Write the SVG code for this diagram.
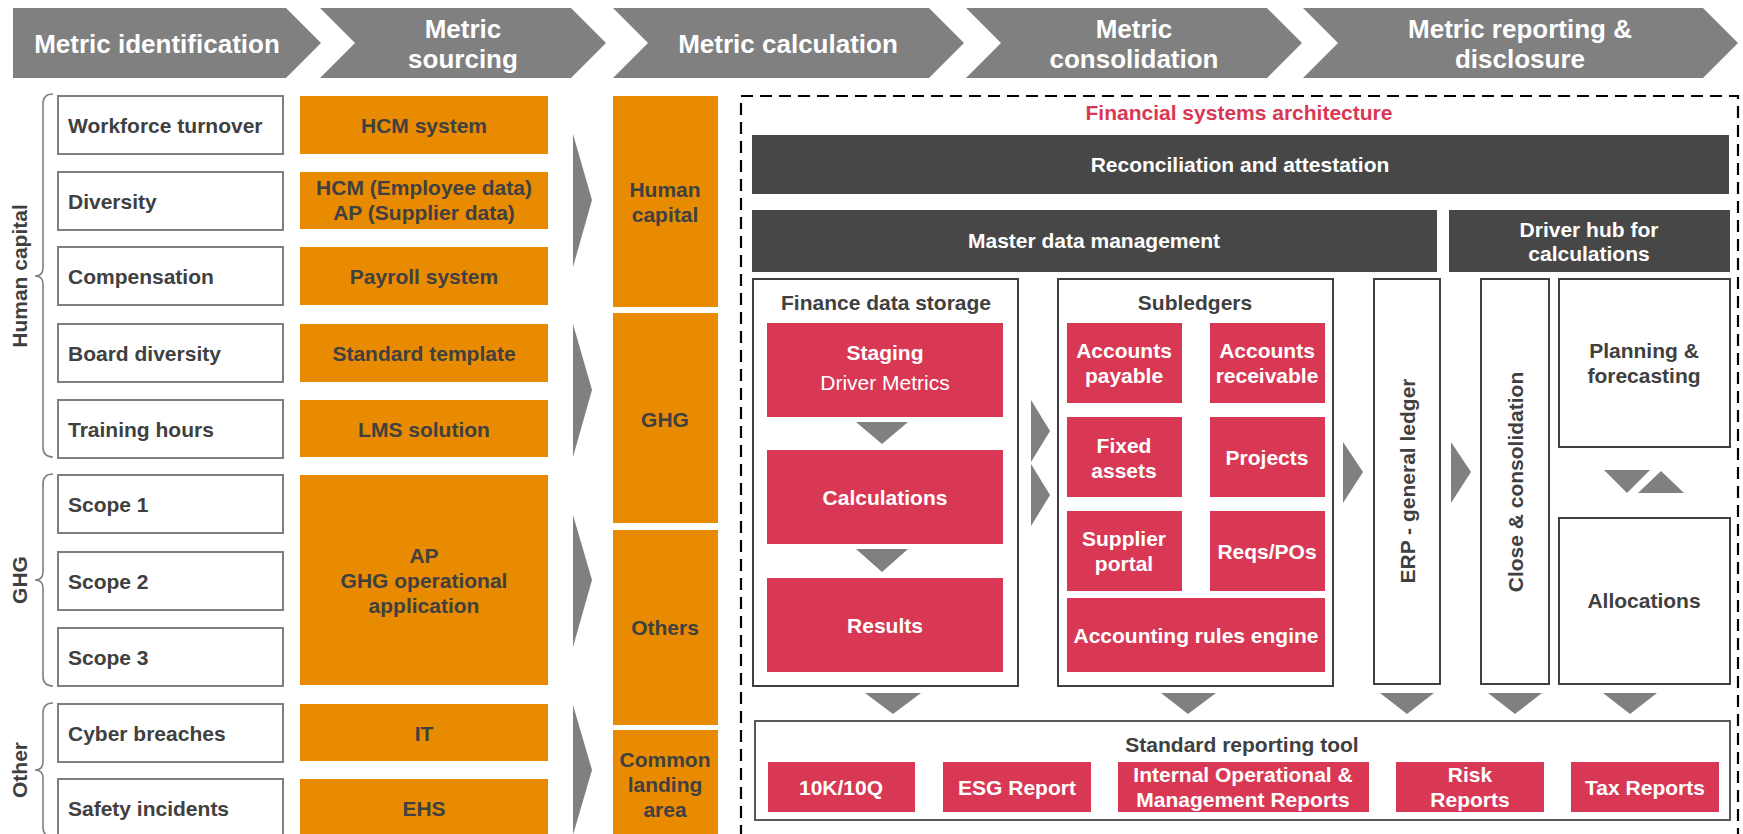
<svg xmlns="http://www.w3.org/2000/svg" width="1743" height="834" viewBox="0 0 1743 834">
  <style>
    text { font-family: "Liberation Sans", Arial, sans-serif; font-weight: bold; font-size: 21px; }
    .hdr { fill: #808080; }
    .hdrt { fill: #ffffff; font-size: 26px; text-anchor: middle; }
    .metric { fill: #ffffff; stroke: #7f7f7f; stroke-width: 2; }
    .dark { fill: #404040; }
    .mid { text-anchor: middle; }
    .src { fill: #E98B00; }
    .red { fill: #D93854; }
    .white { fill: #ffffff; }
    .bar { fill: #474747; }
    .frame { fill: #ffffff; stroke: #404040; stroke-width: 2; }
    .tool { fill: #ffffff; stroke: #595959; stroke-width: 2; }
    .arr { fill: #808080; }
    .brace { fill: none; stroke: #7f7f7f; stroke-width: 1.6; }
    .reg { font-weight: normal; }
  </style>

  <!-- Process chevrons -->
  <g id="stage-identification">
    <path class="hdr" d="M13,8 L286,8 L321,43 L286,78 L13,78 Z"/>
    <text class="hdrt" x="157" y="53">Metric identification</text>
  </g>
  <g id="stage-sourcing">
    <path class="hdr" d="M320,8 L571,8 L606,43 L571,78 L320,78 L355,43 Z"/>
    <text class="hdrt" x="463" y="38">Metric</text>
    <text class="hdrt" x="463" y="68">sourcing</text>
  </g>
  <g id="stage-calculation">
    <path class="hdr" d="M613,8 L929,8 L964,43 L929,78 L613,78 L648,43 Z"/>
    <text class="hdrt" x="788" y="53">Metric calculation</text>
  </g>
  <g id="stage-consolidation">
    <path class="hdr" d="M966,8 L1267,8 L1302,43 L1267,78 L966,78 L1001,43 Z"/>
    <text class="hdrt" x="1134" y="38">Metric</text>
    <text class="hdrt" x="1134" y="68">consolidation</text>
  </g>
  <g id="stage-reporting">
    <path class="hdr" d="M1303,8 L1703,8 L1738,43 L1703,78 L1303,78 L1338,43 Z"/>
    <text class="hdrt" x="1520" y="38">Metric reporting &amp;</text>
    <text class="hdrt" x="1520" y="68">disclosure</text>
  </g>

  <!-- Category braces -->
  <g id="cat-human-capital">
    <path class="brace" d="M53,94 Q43,94 43,104 L43,268 Q43,276 35,276 Q43,276 43,284 L43,447 Q43,457 53,457"/>
    <text class="dark mid" transform="translate(27,276) rotate(-90)">Human capital</text>
  </g>
  <g id="cat-ghg">
    <path class="brace" d="M53,474 Q43,474 43,484 L43,572 Q43,580 35,580 Q43,580 43,588 L43,676 Q43,686 53,686"/>
    <text class="dark mid" transform="translate(27,580) rotate(-90)">GHG</text>
  </g>
  <g id="cat-other">
    <path class="brace" d="M53,703 Q43,703 43,713 L43,762 Q43,770 35,770 Q43,770 43,778 L43,827 Q43,837 53,837"/>
    <text class="dark mid" transform="translate(27,770) rotate(-90)">Other</text>
  </g>

  <!-- Metrics -->
  <g id="m-workforce"><rect class="metric" x="58" y="96" width="225" height="58"/><text class="dark" x="68" y="133">Workforce turnover</text></g>
  <g id="m-diversity"><rect class="metric" x="58" y="172" width="225" height="58"/><text class="dark" x="68" y="209">Diversity</text></g>
  <g id="m-compensation"><rect class="metric" x="58" y="247" width="225" height="58"/><text class="dark" x="68" y="284">Compensation</text></g>
  <g id="m-board"><rect class="metric" x="58" y="324" width="225" height="58"/><text class="dark" x="68" y="361">Board diversity</text></g>
  <g id="m-training"><rect class="metric" x="58" y="400" width="225" height="58"/><text class="dark" x="68" y="437">Training hours</text></g>
  <g id="m-scope1"><rect class="metric" x="58" y="475" width="225" height="58"/><text class="dark" x="68" y="512">Scope 1</text></g>
  <g id="m-scope2"><rect class="metric" x="58" y="552" width="225" height="58"/><text class="dark" x="68" y="589">Scope 2</text></g>
  <g id="m-scope3"><rect class="metric" x="58" y="628" width="225" height="58"/><text class="dark" x="68" y="665">Scope 3</text></g>
  <g id="m-cyber"><rect class="metric" x="58" y="704" width="225" height="58"/><text class="dark" x="68" y="741">Cyber breaches</text></g>
  <g id="m-safety"><rect class="metric" x="58" y="779" width="225" height="58"/><text class="dark" x="68" y="816">Safety incidents</text></g>

  <!-- Sources -->
  <g id="s-hcm"><rect class="src" x="300" y="96" width="248" height="58"/><text class="dark mid" x="424" y="133">HCM system</text></g>
  <g id="s-hcm-ap"><rect class="src" x="300" y="172" width="248" height="57"/><text class="dark mid" x="424" y="195">HCM (Employee data)</text><text class="dark mid" x="424" y="220">AP (Supplier data)</text></g>
  <g id="s-payroll"><rect class="src" x="300" y="247" width="248" height="58"/><text class="dark mid" x="424" y="284">Payroll system</text></g>
  <g id="s-template"><rect class="src" x="300" y="324" width="248" height="58"/><text class="dark mid" x="424" y="361">Standard template</text></g>
  <g id="s-lms"><rect class="src" x="300" y="400" width="248" height="57"/><text class="dark mid" x="424" y="437">LMS solution</text></g>
  <g id="s-ghg"><rect class="src" x="300" y="475" width="248" height="210"/><text class="dark mid" x="424" y="563">AP</text><text class="dark mid" x="424" y="588">GHG operational</text><text class="dark mid" x="424" y="613">application</text></g>
  <g id="s-it"><rect class="src" x="300" y="704" width="248" height="57"/><text class="dark mid" x="424" y="741">IT</text></g>
  <g id="s-ehs"><rect class="src" x="300" y="779" width="248" height="60"/><text class="dark mid" x="424" y="816">EHS</text></g>

  <!-- Calculation landing columns -->
  <g id="c-human-capital"><rect class="src" x="613" y="96" width="105" height="211"/><text class="dark mid" x="665" y="197">Human</text><text class="dark mid" x="665" y="222">capital</text></g>
  <g id="c-ghg"><rect class="src" x="613" y="313" width="105" height="210"/><text class="dark mid" x="665" y="427">GHG</text></g>
  <g id="c-others"><rect class="src" x="613" y="530" width="105" height="195"/><text class="dark mid" x="665" y="635">Others</text></g>
  <g id="c-common"><rect class="src" x="613" y="730" width="105" height="110"/><text class="dark mid" x="665" y="767">Common</text><text class="dark mid" x="665" y="792">landing</text><text class="dark mid" x="665" y="817">area</text></g>

  <!-- Financial systems architecture -->
  <g id="fsa">
    <rect x="741" y="96" width="997" height="770" fill="none" stroke="#000000" stroke-width="2.2" stroke-dasharray="12 7"/>
    <text x="1239" y="120" class="mid" fill="#D93854">Financial systems architecture</text>
  </g>
  <g id="reconciliation"><rect class="bar" x="752" y="135" width="977" height="59"/><text class="white mid" x="1240" y="172">Reconciliation and attestation</text></g>
  <g id="master-data"><rect class="bar" x="752" y="210" width="685" height="62"/><text class="white mid" x="1094" y="248">Master data management</text></g>
  <g id="driver-hub"><rect class="bar" x="1449" y="210" width="281" height="62"/><text class="white mid" x="1589" y="237">Driver hub for</text><text class="white mid" x="1589" y="261">calculations</text></g>

  <g id="finance-storage">
    <rect class="frame" x="753" y="279" width="265" height="407"/>
    <text class="dark mid" x="886" y="310">Finance data storage</text>
  </g>
  <g id="staging"><rect class="red" x="767" y="323" width="236" height="94"/><text class="white mid" x="885" y="360">Staging</text><text class="white mid reg" x="885" y="390">Driver Metrics</text></g>
  <g id="calculations"><rect class="red" x="767" y="450" width="236" height="94"/><text class="white mid" x="885" y="505">Calculations</text></g>
  <g id="results"><rect class="red" x="767" y="578" width="236" height="94"/><text class="white mid" x="885" y="633">Results</text></g>

  <g id="subledgers">
    <rect class="frame" x="1058" y="279" width="275" height="407"/>
    <text class="dark mid" x="1195" y="310">Subledgers</text>
  </g>
  <g id="accounts-payable"><rect class="red" x="1067" y="323" width="115" height="80"/><text class="white mid" x="1124" y="358">Accounts</text><text class="white mid" x="1124" y="383">payable</text></g>
  <g id="accounts-receivable"><rect class="red" x="1210" y="323" width="115" height="80"/><text class="white mid" x="1267" y="358">Accounts</text><text class="white mid" x="1267" y="383">receivable</text></g>
  <g id="fixed-assets"><rect class="red" x="1067" y="417" width="115" height="80"/><text class="white mid" x="1124" y="453">Fixed</text><text class="white mid" x="1124" y="478">assets</text></g>
  <g id="projects"><rect class="red" x="1210" y="417" width="115" height="80"/><text class="white mid" x="1267" y="465">Projects</text></g>
  <g id="supplier-portal"><rect class="red" x="1067" y="511" width="115" height="80"/><text class="white mid" x="1124" y="546">Supplier</text><text class="white mid" x="1124" y="571">portal</text></g>
  <g id="reqs-pos"><rect class="red" x="1210" y="511" width="115" height="80"/><text class="white mid" x="1267" y="559">Reqs/POs</text></g>
  <g id="rules-engine"><rect class="red" x="1067" y="598" width="258" height="74"/><text class="white mid" x="1196" y="643">Accounting rules engine</text></g>

  <g id="erp"><rect class="frame" x="1374" y="279" width="66" height="405"/><text class="dark mid" transform="translate(1415,481) rotate(-90)">ERP - general ledger</text></g>
  <g id="close"><rect class="frame" x="1481" y="279" width="68" height="405"/><text class="dark mid" transform="translate(1523,482) rotate(-90)">Close &amp; consolidation</text></g>
  <g id="planning"><rect class="frame" x="1559" y="279" width="171" height="168"/><text class="dark mid" x="1644" y="358">Planning &amp;</text><text class="dark mid" x="1644" y="383">forecasting</text></g>
  <g id="allocations"><rect class="frame" x="1559" y="518" width="171" height="166"/><text class="dark mid" x="1644" y="608">Allocations</text></g>

  <g id="reporting-tool">
    <rect class="tool" x="755" y="721" width="975" height="99"/>
    <text class="dark mid" x="1242" y="752">Standard reporting tool</text>
  </g>
  <g id="r-10k"><rect class="red" x="768" y="762" width="147" height="50"/><text class="white mid" x="841" y="795">10K/10Q</text></g>
  <g id="r-esg"><rect class="red" x="943" y="762" width="148" height="50"/><text class="white mid" x="1017" y="795">ESG Report</text></g>
  <g id="r-internal"><rect class="red" x="1118" y="762" width="251" height="50"/><text class="white mid" x="1243" y="782">Internal Operational &amp;</text><text class="white mid" x="1243" y="807">Management Reports</text></g>
  <g id="r-risk"><rect class="red" x="1396" y="762" width="148" height="50"/><text class="white mid" x="1470" y="782">Risk</text><text class="white mid" x="1470" y="807">Reports</text></g>
  <g id="r-tax"><rect class="red" x="1571" y="762" width="148" height="50"/><text class="white mid" x="1645" y="795">Tax Reports</text></g>

  <!-- Flow arrows -->
  <g id="connectors" class="arr">
    <polygon points="573,134 592,200 573,267"/>
    <polygon points="573,324 592,390 573,457"/>
    <polygon points="573,515 592,580 573,647"/>
    <polygon points="573,705 592,770 573,835"/>

    <polygon points="856,422 908,422 882,444"/>
    <polygon points="856,549 908,549 882,572"/>

    <polygon points="1031,400 1050,431 1031,462"/>
    <polygon points="1031,464 1050,495 1031,526"/>
    <polygon points="1343,442 1363,472 1343,503"/>
    <polygon points="1451,442 1471,472 1451,503"/>

    <polygon points="1604,470 1650,470 1627,493"/>
    <polygon points="1638,493 1684,493 1661,471"/>

    <polygon points="865,693 921,693 893,714"/>
    <polygon points="1161,693 1216,693 1188,714"/>
    <polygon points="1380,693 1434,693 1407,714"/>
    <polygon points="1488,693 1542,693 1515,714"/>
    <polygon points="1603,693 1657,693 1630,714"/>
  </g>
</svg>
